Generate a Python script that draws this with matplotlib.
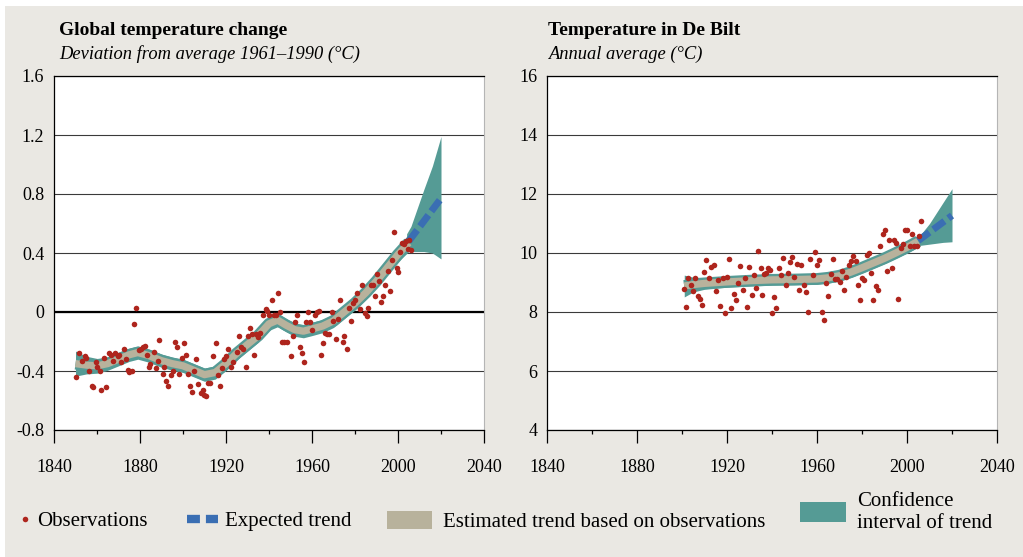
import matplotlib
matplotlib.use('Agg')
import matplotlib.pyplot as plt
from matplotlib.lines import Line2D
from matplotlib.patches import Patch, Rectangle
from matplotlib.ticker import MultipleLocator

plt.rcParams['font.family'] = ['Liberation Serif', 'DejaVu Serif']

RED = '#AE251D'
BLUE = '#3A6EB3'
BEIGE = '#B8B29C'
TEAL = '#559B95'
PANEL = '#EAE8E3'
GRID = '#3a3a3a'

# global temperature anomaly, observations
glob_obs_year = [
    1850.4, 1851.6, 1853.0, 1854.4, 1855.0, 1856.3, 1857.8, 1858.3, 1859.5, 1860.1,
    1861.2, 1862.0, 1863.4, 1864.3, 1865.6, 1866.4, 1867.4, 1868.5, 1869.6, 1870.2,
    1871.2, 1872.4, 1873.3, 1874.3, 1875.0, 1876.1, 1877.3, 1878.3, 1879.5, 1880.5,
    1881.5, 1882.3, 1883.3, 1884.0, 1884.7, 1886.4, 1887.3, 1888.2, 1889.0, 1890.5,
    1891.3, 1892.1, 1893.0, 1894.4, 1895.5, 1896.3, 1897.0, 1898.1, 1899.4, 1900.3,
    1901.2, 1902.3, 1903.3, 1904.3, 1905.3, 1906.2, 1907.1, 1908.4, 1909.2, 1909.9,
    1910.7, 1911.8, 1912.7, 1914.1, 1915.2, 1916.3, 1917.4, 1918.3, 1919.1, 1920.0,
    1921.1, 1922.2, 1923.3, 1925.1, 1926.2, 1927.0, 1928.0, 1929.3, 1930.1, 1931.3,
    1931.9, 1933.2, 1934.1, 1935.0, 1936.0, 1937.2, 1938.5, 1939.1, 1940.0, 1941.2,
    1942.5, 1943.3, 1944.2, 1945.1, 1946.2, 1947.1, 1948.5, 1950.2, 1951.2, 1952.1,
    1953.2, 1954.4, 1955.2, 1956.1, 1957.2, 1958.3, 1959.2, 1960.1, 1961.4, 1962.3,
    1963.3, 1964.2, 1965.1, 1966.2, 1967.0, 1967.9, 1969.2, 1969.9, 1971.0, 1972.1,
    1973.2, 1974.3, 1975.0, 1976.3, 1977.2, 1978.1, 1979.1, 1980.0, 1981.1, 1982.2,
    1983.3, 1984.5, 1985.4, 1986.0, 1987.4, 1988.2, 1989.3, 1990.2, 1991.2, 1992.2,
    1993.0, 1994.0, 1995.2, 1996.1, 1997.2, 1998.0, 1999.4, 2000.1, 2001.1, 2002.0,
    2002.8, 2003.7, 2004.5, 2005.0, 2006.0,
]
glob_obs_val = [
    -0.44, -0.28, -0.33, -0.30, -0.31, -0.40, -0.50, -0.51, -0.34, -0.37,
    -0.40, -0.53, -0.31, -0.51, -0.28, -0.29, -0.33, -0.28, -0.30, -0.29,
    -0.34, -0.25, -0.32, -0.39, -0.41, -0.40, -0.08, 0.03, -0.26, -0.25,
    -0.24, -0.23, -0.29, -0.37, -0.35, -0.27, -0.38, -0.33, -0.19, -0.42,
    -0.37, -0.47, -0.50, -0.43, -0.40, -0.20, -0.24, -0.42, -0.31, -0.21,
    -0.29, -0.42, -0.50, -0.54, -0.40, -0.32, -0.49, -0.55, -0.53, -0.56,
    -0.57, -0.48, -0.48, -0.30, -0.21, -0.43, -0.50, -0.38, -0.32, -0.30,
    -0.25, -0.37, -0.34, -0.27, -0.16, -0.24, -0.25, -0.37, -0.16, -0.11,
    -0.15, -0.29, -0.15, -0.17, -0.14, -0.02, 0.02, 0.01, -0.02, 0.08,
    -0.02, -0.02, 0.13, 0.00, -0.20, -0.20, -0.20, -0.30, -0.16, -0.07,
    -0.02, -0.24, -0.28, -0.34, -0.07, 0.00, -0.07, -0.12, -0.02, 0.00,
    0.01, -0.29, -0.21, -0.14, -0.15, -0.15, 0.00, -0.06, -0.18, -0.05,
    0.08, -0.20, -0.16, -0.25, 0.03, -0.06, 0.06, 0.08, 0.13, 0.02,
    0.18, -0.01, -0.03, 0.03, 0.18, 0.18, 0.11, 0.26, 0.21, 0.07,
    0.11, 0.18, 0.28, 0.14, 0.35, 0.54, 0.30, 0.27, 0.41, 0.47,
    0.46, 0.48, 0.43, 0.49, 0.42,
]

# smoothed trend with half width of its confidence band
glob_trend_year = [1850, 1855, 1860, 1865, 1870, 1875, 1879, 1884, 1890, 1895, 1900,
                   1905, 1910, 1915, 1920, 1925, 1930, 1935, 1940, 1944, 1948, 1952,
                   1956, 1960, 1965, 1970, 1975, 1980, 1985, 1990, 1995, 2000, 2005]
glob_trend_val = [-0.35, -0.36, -0.365, -0.35, -0.32, -0.29, -0.275, -0.295, -0.33,
                  -0.35, -0.365, -0.395, -0.425, -0.41, -0.35, -0.28, -0.22, -0.16,
                  -0.08, -0.055, -0.09, -0.12, -0.13, -0.115, -0.095, -0.06, 0.00,
                  0.06, 0.13, 0.21, 0.30, 0.39, 0.47]
glob_trend_ci = [0.085, 0.06, 0.05, 0.045, 0.045, 0.045, 0.045, 0.045, 0.045, 0.045,
                 0.045, 0.045, 0.045, 0.045, 0.045, 0.045, 0.045, 0.045, 0.045, 0.045,
                 0.045, 0.045, 0.045, 0.045, 0.045, 0.045, 0.045, 0.045, 0.045, 0.045,
                 0.045, 0.05, 0.06]

# expected trend and its confidence band
glob_exp_year = [2005, 2020]
glob_exp_val = [0.48, 0.77]
glob_band_year = [2004, 2006, 2012, 2016, 2020]
glob_band_lo = [0.42, 0.41, 0.41, 0.40, 0.36]
glob_band_hi = [0.53, 0.58, 0.83, 0.99, 1.19]

glob_yticks = [-0.8, -0.4, 0, 0.4, 0.8, 1.2, 1.6]
glob_ylabels = ['-0.8', '-0.4', '0', '0.4', '0.8', '1.2', '1.6']

# De Bilt annual mean temperature
debilt_obs_year = [
    1900.9, 1901.9, 1902.8, 1904.0, 1904.9, 1905.9, 1907.0, 1907.9, 1908.9, 1909.9,
    1910.8, 1912.0, 1912.9, 1914.1, 1915.0, 1916.0, 1917.0, 1918.1, 1919.0, 1920.0,
    1920.9, 1921.9, 1923.0, 1924.0, 1925.0, 1925.9, 1927.0, 1928.0, 1928.9, 1929.9,
    1931.0, 1931.9, 1933.0, 1933.9, 1935.0, 1935.4, 1936.3, 1937.2, 1938.1, 1939.0,
    1940.1, 1941.0, 1941.9, 1943.0, 1944.0, 1945.0, 1946.1, 1947.0, 1948.0, 1949.0,
    1949.9, 1951.0, 1952.0, 1953.0, 1954.1, 1955.0, 1956.0, 1957.0, 1958.1, 1959.0,
    1960.0, 1960.9, 1962.1, 1963.0, 1964.0, 1965.0, 1966.1, 1967.1, 1968.1, 1969.0,
    1970.1, 1971.1, 1972.1, 1973.0, 1974.1, 1975.1, 1976.1, 1977.2, 1978.1, 1979.0,
    1980.0, 1981.0, 1982.1, 1983.1, 1984.0, 1985.0, 1986.1, 1987.1, 1988.1, 1989.2,
    1990.1, 1991.1, 1992.0, 1993.2, 1994.1, 1995.1, 1996.1, 1997.2, 1998.1, 1999.2,
    2000.1, 2001.2, 2002.2, 2003.3, 2004.3, 2005.2, 2006.1,
]
debilt_obs_val = [
    8.79, 8.18, 9.15, 8.93, 8.70, 9.16, 8.54, 8.43, 8.25, 9.37,
    9.77, 9.15, 9.52, 9.60, 8.70, 9.10, 8.22, 9.16, 7.98, 9.19,
    9.80, 8.13, 8.61, 8.40, 8.99, 9.55, 8.76, 9.16, 8.16, 9.53,
    8.59, 9.24, 8.83, 10.07, 9.50, 8.59, 9.29, 9.31, 9.50, 9.44,
    7.95, 8.52, 8.12, 9.48, 9.26, 9.83, 8.92, 9.32, 9.71, 9.88,
    9.17, 9.62, 8.75, 9.60, 8.90, 8.67, 8.00, 9.80, 9.26, 10.02,
    9.60, 9.77, 8.00, 7.73, 8.97, 8.54, 9.29, 9.80, 9.12, 9.12,
    9.01, 9.39, 8.74, 9.17, 9.60, 9.72, 9.89, 9.73, 8.90, 8.39,
    9.15, 9.10, 9.94, 10.00, 9.32, 8.40, 8.88, 8.74, 10.25, 10.65,
    10.79, 9.38, 10.45, 9.48, 10.45, 10.34, 8.43, 10.16, 10.29, 10.79,
    10.79, 10.25, 10.63, 10.23, 10.23, 10.58, 11.10,
]

debilt_trend_year = [1901, 1905, 1910, 1920, 1930, 1940, 1950, 1960, 1965, 1970,
                     1975, 1980, 1985, 1990, 1995, 2000, 2005]
debilt_trend_val = [8.88, 8.93, 8.97, 9.02, 9.06, 9.09, 9.10, 9.12, 9.16, 9.23,
                    9.35, 9.50, 9.66, 9.82, 10.00, 10.19, 10.40]
debilt_trend_ci = [0.37, 0.25, 0.2, 0.18, 0.18, 0.18, 0.18, 0.18, 0.18, 0.18,
                   0.18, 0.18, 0.18, 0.18, 0.18, 0.19, 0.2]

debilt_exp_year = [2005, 2020]
debilt_exp_val = [10.42, 11.27]
debilt_band_year = [2004, 2006, 2010, 2016, 2020]
debilt_band_lo = [10.24, 10.26, 10.30, 10.36, 10.38]
debilt_band_hi = [10.55, 10.62, 11.0, 11.71, 12.18]

debilt_yticks = [4, 6, 8, 10, 12, 14, 16]
debilt_ylabels = ['4', '6', '8', '10', '12', '14', '16']

W, H = 1023, 557
fig = plt.figure(figsize=(W / 100, H / 100), dpi=100, facecolor='white')
fig.add_artist(Rectangle((5 / W, 0), 1, (H - 6) / H, transform=fig.transFigure,
                         facecolor=PANEL, edgecolor='none', zorder=-10))


def draw_panel(ax, obs_x, obs_y, tr_x, tr_y, tr_ci, ex_x, ex_y,
               band_x, band_lo, band_hi, ylim, yticks, ylabels):
    lo = [v - c for v, c in zip(tr_y, tr_ci)]
    hi = [v + c for v, c in zip(tr_y, tr_ci)]
    ax.fill_between(band_x, band_lo, band_hi, color=TEAL, lw=0, zorder=2)
    ax.fill_between(tr_x, lo, hi, color=TEAL, lw=0, zorder=2)
    ax.plot(tr_x, tr_y, color=TEAL, lw=8.5, solid_capstyle='butt',
            solid_joinstyle='round', zorder=3)
    ax.plot(tr_x, tr_y, color=BEIGE, lw=5.2, solid_capstyle='butt',
            solid_joinstyle='round', zorder=4)
    ax.plot(ex_x, ex_y, color=BLUE, lw=5, dashes=(2.0, 0.7), zorder=5)
    ax.plot(obs_x, obs_y, 'o', ms=4, color=RED, mec='none', zorder=6)

    ax.set_xlim(1840, 2040)
    ax.set_ylim(*ylim)
    ax.set_yticks(yticks)
    ax.set_yticklabels(ylabels)
    ax.xaxis.set_major_locator(MultipleLocator(40))
    ax.xaxis.set_minor_locator(MultipleLocator(20))
    ax.set_axisbelow(True)
    ax.yaxis.grid(True, color=GRID, lw=0.8)
    ax.tick_params(axis='y', length=0, pad=7, labelsize=13)
    ax.tick_params(axis='x', which='major', length=9, width=0.9, pad=12, labelsize=13)
    ax.tick_params(axis='x', which='minor', length=3, width=0.9)
    for side in ('left', 'bottom', 'top'):
        ax.spines[side].set_color('black')
        ax.spines[side].set_linewidth(0.9)
    ax.spines['right'].set_color('#b5b5b5')
    ax.spines['right'].set_linewidth(0.8)


ax_g = fig.add_axes([54 / W, 1 - 430 / H, 430 / W, 354 / H])
draw_panel(ax_g, glob_obs_year, glob_obs_val, glob_trend_year, glob_trend_val,
           glob_trend_ci, glob_exp_year, glob_exp_val, glob_band_year,
           glob_band_lo, glob_band_hi, (-0.8, 1.6), glob_yticks, glob_ylabels)
ax_g.axhline(0, color='black', lw=1.6, zorder=1.5)

ax_d = fig.add_axes([547 / W, 1 - 430 / H, 450 / W, 354 / H])
draw_panel(ax_d, debilt_obs_year, debilt_obs_val, debilt_trend_year,
           debilt_trend_val, debilt_trend_ci, debilt_exp_year, debilt_exp_val,
           debilt_band_year, debilt_band_lo, debilt_band_hi, (4, 16),
           debilt_yticks, debilt_ylabels)

# titles
fig.text(59 / W, 1 - 35 / H, 'Global temperature change', fontsize=14,
         fontweight='bold', va='baseline')
fig.text(59 / W, 1 - 59 / H, 'Deviation from average 1961\u20131990 (\u00b0C)',
         fontsize=13.3, style='italic', va='baseline')
fig.text(548 / W, 1 - 35 / H, 'Temperature in De Bilt', fontsize=14,
         fontweight='bold', va='baseline')
fig.text(548 / W, 1 - 59 / H, 'Annual average (\u00b0C)', fontsize=13.3,
         style='italic', va='baseline')

# legend, one entry at a time so each key keeps its own size
FS = 15
em = FS * 100 / 72
entries = [
    (Line2D([], [], ls='none', marker='o', ms=4, color=RED, mec='none'),
     'Observations', 20, 521.5, 10, 0.7, 7),
    (Line2D([], [], color=BLUE, lw=6, dashes=(1.55, 0.72)),
     'Expected trend', 187, 521, 31, 0.7, 7),
    (Patch(facecolor=BEIGE, edgecolor='none'),
     'Estimated trend based on observations', 387, 521.5, 45, 19, 11),
    (Patch(facecolor=TEAL, edgecolor='none'),
     'Confidence\ninterval of trend', 800, 512.5, 46, 23, 11),
]
for handle, label, x, y, hl, hh, pad in entries:
    hh_em = hh if hh < 1 else hh / em
    fig.legend(handles=[handle], labels=[label], loc='center left',
               bbox_to_anchor=(x / W, 1 - y / H), frameon=False, fontsize=FS,
               borderpad=0, borderaxespad=0, numpoints=1,
               handlelength=hl / em, handleheight=hh_em, handletextpad=pad / em)

fig.savefig('out.png', dpi=100, facecolor=fig.get_facecolor())
